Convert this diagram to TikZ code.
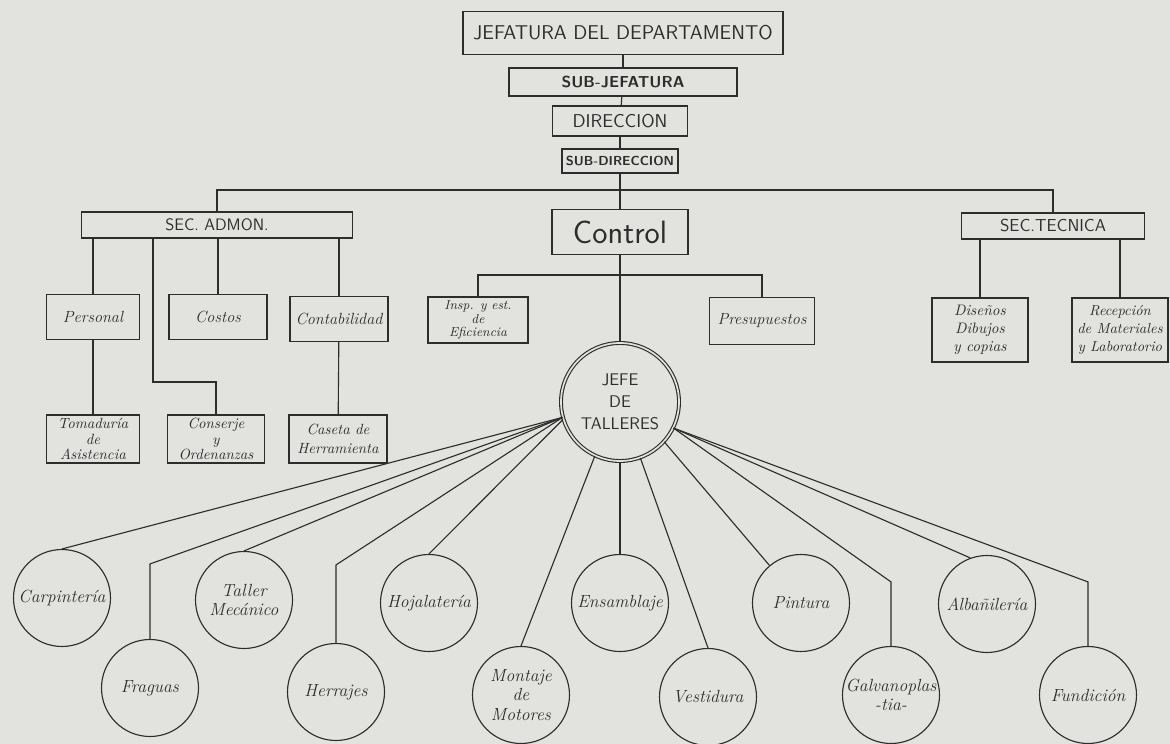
\documentclass[tikz,border=0pt]{standalone}
\usepackage{tikz}
\definecolor{paper}{RGB}{226,226,223}
\definecolor{ink}{RGB}{45,45,45}

\begin{document}
\begin{tikzpicture}[x=0.25mm, y=-0.25mm, color=ink, line width=0.8pt,
  hbox/.style={draw, inner sep=0pt, font=\sffamily},
  ubox/.style={draw, inner sep=0pt, align=center, minimum width=24.5mm, minimum height=11.25mm,
    font=\itshape\fontsize{11.5}{13}\selectfont},
  shop/.style={draw, circle, inner sep=0pt, align=center, minimum size=24.25mm,
    font=\itshape\fontsize{12.5}{14}\selectfont}]
\useasboundingbox[fill=paper] (0,0) rectangle (1170,744);

\node[hbox, minimum width=80mm, minimum height=10.75mm, font=\sffamily\fontsize{14.2}{16}\selectfont] (jefatura) at (623,33) {JEFATURA DEL DEPARTAMENTO};
\node[hbox, minimum width=57mm, minimum height=7mm, font=\sffamily\bfseries\fontsize{11.3}{13}\selectfont] (subjefatura) at (623,82) {SUB-JEFATURA};
\node[hbox, minimum width=33.75mm, minimum height=7.5mm, font=\sffamily\fontsize{13.2}{15}\selectfont] (direccion) at (620,121) {DIRECCION};
\node[hbox, minimum width=29mm, minimum height=6mm, font=\sffamily\bfseries\fontsize{9.3}{11}\selectfont] (subdireccion) at (620,161) {SUB-DIRECCION};
\node[hbox, minimum width=67.75mm, minimum height=6.5mm, font=\sffamily\fontsize{11.8}{13}\selectfont] (admon) at (217,225) {SEC. ADMON.};
\node[hbox, minimum width=34mm, minimum height=11.25mm, font=\sffamily\fontsize{23}{25}\selectfont] (control) at (620,232) {Control};
\node[hbox, minimum width=45.75mm, minimum height=6.5mm, font=\sffamily\fontsize{12.3}{13}\selectfont] (tecnica) at (1053,226) {SEC.TECNICA};

\node[ubox, minimum width=23.25mm] (personal) at (93,317) {Personal};
\node[ubox] (costos) at (218,317) {Costos};
\node[ubox] (contabilidad) at (339,319) {Contabilidad};
\node[ubox, minimum width=23.25mm, minimum height=12mm, font=\itshape\fontsize{10.5}{11}\selectfont] (tomaduria) at (93,439) {Tomaduría\\de\\Asistencia};
\node[ubox, minimum width=24.25mm, minimum height=12mm, font=\itshape\fontsize{10.5}{11}\selectfont] (conserje) at (216,439) {Conserje\\y\\Ordenanzas};
\node[ubox, minimum height=12mm, font=\itshape\fontsize{10.5}{13.5}\selectfont] (caseta) at (338,439) {Caseta de\\Herramienta};
\node[ubox, minimum width=25mm, minimum height=11.5mm, font=\itshape\fontsize{9.3}{9.5}\selectfont] (insp) at (478,320) {Insp. y est.\\de\\Eficiencia};
\node[ubox, minimum width=26.25mm, minimum height=11.75mm] (presupuestos) at (762,321) {Presupuestos};
\node[ubox, minimum width=24mm, minimum height=16mm, font=\itshape\fontsize{10.8}{12.8}\selectfont] (disenos) at (980,330) {Diseños\\Dibujos\\y copias};
\node[ubox, minimum width=24mm, minimum height=16mm, font=\itshape\fontsize{10.3}{12.8}\selectfont] (recepcion) at (1120,330) {Recepción\\de Materiales\\y Laboratorio};

\node[draw, circle, double=paper, double distance=1.2pt, minimum size=29.5mm, inner sep=0pt, align=center,
  font=\sffamily\fontsize{12}{15.5}\selectfont] (jefe) at (620,402) {JEFE\\DE\\TALLERES};

\node[shop] (carpinteria) at (62,598) {Carpintería};
\node[shop] (fraguas) at (150,688) {Fraguas};
\node[shop] (mecanico) at (244,600) {Taller\\Mecánico};
\node[shop] (herrajes) at (336,692) {Herrajes};
\node[shop] (hojalateria) at (429,603) {Hojalatería};
\node[shop] (montaje) at (521,695) {Montaje\\de\\Motores};
\node[shop] (ensamblaje) at (620,603) {Ensamblaje};
\node[shop] (vestidura) at (708,697) {Vestidura};
\node[shop] (pintura) at (801,603) {Pintura};
\node[shop] (galvano) at (891,695) {Galvanoplas\\-tia-};
\node[shop] (albanileria) at (987,604) {Albañilería};
\node[shop] (fundicion) at (1088,695) {Fundición};

\coordinate (busL) at (217,190);
\coordinate (busR) at (1053,190);
\coordinate (cbus) at (620,275);
\coordinate (cbend) at (153,382);

\draw (jefatura) -- (subjefatura);
\draw (subjefatura) -- (direccion);
\draw (direccion) -- (subdireccion);
\draw (subdireccion) -- (control);
\draw (admon.north) -- (busL) -- (busR) -- (tecnica.north);
\draw (admon.south -| personal) -- (personal);
\draw (admon.south -| costos) -- (costos);
\draw (admon.south -| contabilidad) -- (contabilidad);
\draw (cbend |- admon.south) -- (cbend) -| (conserje.north);
\draw (personal) -- (tomaduria);
\draw (contabilidad) -- (caseta);
\draw (insp.north) |- (cbus) -| (presupuestos.north);
\draw (control) -- (jefe);
\draw (tecnica.south -| disenos) -- (disenos);
\draw (tecnica.south -| recepcion) -- (recepcion);

\draw (jefe.195) -- (carpinteria.north);
\draw (jefe.195) -- ([yshift=18.75mm]fraguas.north) -- (fraguas.north);
\draw (jefe.195) -- (mecanico.north);
\draw (jefe.195) -- ([yshift=19.5mm]herrajes.north) -- (herrajes.north);
\draw (jefe.197) -- (hojalateria.north);
\draw (jefe.245) -- (montaje.north);
\draw (jefe.south) -- (ensamblaje.north);
\draw (jefe.290) -- (vestidura.north);
\draw (jefe.318) -- (pintura.130);
\draw (jefe.334) -- ([yshift=16mm]galvano.north) -- (galvano.north);
\draw (jefe.334) -- (albanileria.110);
\draw (jefe.334) -- ([yshift=16mm]fundicion.north) -- (fundicion.north);
\end{tikzpicture}
\end{document}
